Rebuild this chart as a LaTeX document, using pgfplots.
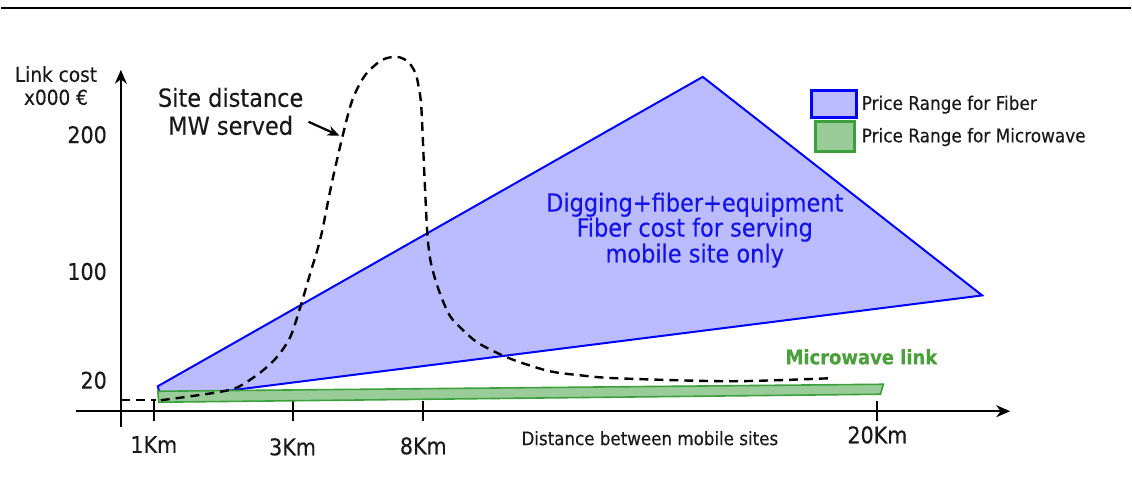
\documentclass[border=0pt]{standalone}
\usepackage{pgfplots}
\pgfplotsset{compat=1.18}
\usetikzlibrary{arrows.meta}
\usepackage{fontspec}
\setmainfont{DejaVu Sans Condensed}[FakeBold=0.3]
\definecolor{fibfill}{RGB}{187,187,255}
\definecolor{fibline}{RGB}{0,0,255}
\definecolor{mwfill}{RGB}{153,204,153}
\definecolor{mwline}{RGB}{60,160,60}
\definecolor{mwtext}{RGB}{76,160,60}
\definecolor{fibtext}{RGB}{20,20,230}
\definecolor{txt}{RGB}{25,25,25}
\begin{document}
\begin{tikzpicture}
\begin{axis}[
  x=0.5pt, y=0.5pt,
  axis lines=middle,
  xmin=-45, xmax=891, ymin=-16, ymax=342,
  axis line style={line width=1pt, -{Stealth[length=7pt,width=6pt]}},
  xtick={33,172,303,758},
  xticklabels={\mbox{1Km},\mbox{\raisebox{-1pt}[\height][0pt]{3Km}},\mbox{\raisebox{-0.5pt}[\height][0pt]{8Km}},\mbox{\raisebox{5pt}[\height][0pt]{20Km}}},
  ytick={31,140,277},
  yticklabels={\mbox{20},\mbox{100},\mbox{200}},
  major tick length=10pt,
  tick align=center,
  x tick style={line width=1pt, black},
  y tick style={draw=none},
  xticklabel style={font=\fontsize{11.5}{13}\selectfont, text=txt, anchor=north, yshift=-4pt},
  yticklabel style={font=\fontsize{11.5}{13}\selectfont, text=txt, anchor=east, xshift=1.5pt},
  clip=false,
  legend style={at={(axis cs:690,323)}, anchor=north west, draw=none, fill=none,
    inner sep=0pt, row sep=0.5pt, font=\fontsize{9.4}{11}\selectfont,
    nodes={text=txt}},
  legend cell align=left,
]
% frame line at top
\addplot[forget plot, black, line width=1.1pt] coordinates {(-120,404) (1012,404)};
% fiber price range
\addplot[fill=fibfill, draw=fibline, line width=1pt,
  legend image code/.code={\draw[fill=fibfill, draw=fibline, line width=1.5pt] (0pt,-6.75pt) rectangle (22.5pt,6.75pt);}]
  coordinates {(37,25) (583,335) (863,116) (40,12)} -- cycle;
\addlegendentry{Price Range for Fiber}
% microwave price range
\addplot[fill=mwfill, draw=mwline, line width=0.8pt,
  legend image code/.code={\draw[fill=mwfill, draw=mwline, line width=1.5pt] (2pt,-7.5pt) rectangle (21.5pt,7.5pt);}]
  coordinates {(37,20) (764,27) (761,17) (38,9)} -- cycle;
\addlegendentry{Price Range for Microwave}
% site distance dashed curve
\addplot[forget plot, black, line width=1.2pt, dash pattern=on 4.5pt off 3pt] coordinates {(0,11) (35,11)};
\addplot[forget plot, black, line width=1.2pt, dash pattern=on 4.5pt off 3pt, smooth, tension=0.5] coordinates {
(40,11) (63,14) (97,19) (117,24) (140,39) (157,55) (170,75) (180,105) (190,139)
(197,162) (202,182) (211,227) (222,275) (232,312) (245,337) (262,352) (277,355)
(288,350) (295,339) (298,327) (301,305) (304,239) (307,179) (310,152) (315,132)
(322,112) (330,95) (342,82) (357,69) (380,57) (400,49) (430,40) (460,36) (497,33)
(610,30) (710,33)};
% arrow from annotation
\addplot[forget plot, black, line width=1.1pt, -{Stealth[length=6pt,width=5pt]}] coordinates {(188,290) (219,276)};
% texts
\node[anchor=base, text=txt, font=\fontsize{10.3}{12}\selectfont] at (axis cs:-65,330) {Link cost};
\node[anchor=base, text=txt, font=\fontsize{10.3}{12}\selectfont] at (axis cs:-65,307) {x000 €};
\node[anchor=base, text=txt, font=\fontsize{12.5}{15}\selectfont] at (axis cs:110,305) {Site distance};
\node[anchor=base, text=txt, font=\fontsize{12.5}{15}\selectfont] at (axis cs:110,277) {MW served};
\node[anchor=base, text=fibtext, font=\fontsize{12.5}{15}\selectfont] at (axis cs:575,200) {Digging+fiber+equipment};
\node[anchor=base, text=fibtext, font=\fontsize{12.5}{15}\selectfont] at (axis cs:575,175) {Fiber cost for serving};
\node[anchor=base, text=fibtext, font=\fontsize{12.5}{15}\selectfont] at (axis cs:575,149) {mobile site only};
\node[anchor=base, text=mwtext, font=\bfseries\fontsize{10}{12}\selectfont] at (axis cs:742,47) {Microwave link};
\node[anchor=base, text=txt, font=\fontsize{9.3}{11}\selectfont] at (axis cs:530,-34) {Distance between mobile sites};
\path (axis cs:-120,-92) rectangle (axis cs:1012,412);
\end{axis}
\end{tikzpicture}
\end{document}
